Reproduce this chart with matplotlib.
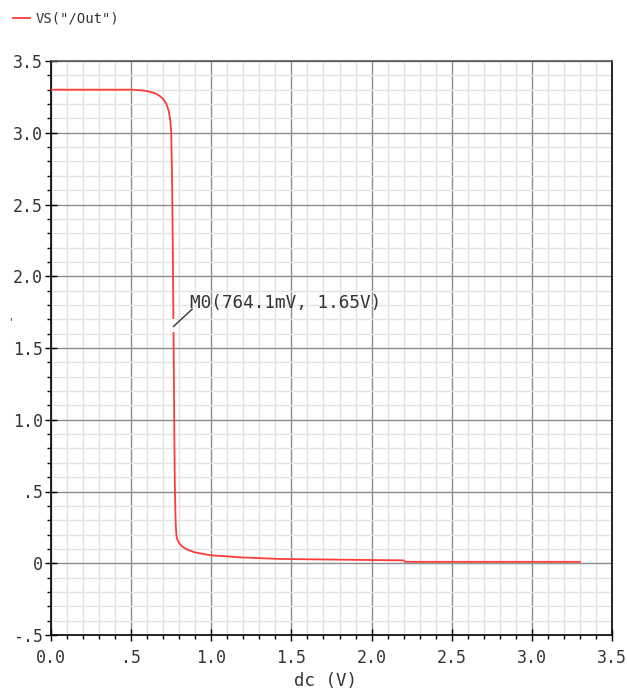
import numpy as np
import matplotlib.pyplot as plt
from matplotlib.ticker import MultipleLocator, FuncFormatter

plt.rcParams['font.family'] = ['DejaVu Sans Mono']

# DC sweep of an inverter output
dc = [0.0, 0.5, 0.55, 0.6, 0.65, 0.68, 0.7, 0.72, 0.735, 0.745, 0.75, 0.755,
      0.76, 0.7641, 0.768, 0.772, 0.776, 0.779, 0.782, 0.786, 0.79, 0.8, 0.82,
      0.85, 0.9, 1.0, 1.2, 1.43, 1.8, 2.2, 2.21, 3.3]
vout = [3.3, 3.3, 3.297, 3.29, 3.275, 3.255, 3.235, 3.2, 3.15, 3.08, 3.0, 2.7,
        2.2, 1.65, 1.1, 0.6, 0.35, 0.25, 0.2, 0.175, 0.16, 0.14, 0.115,
        0.095, 0.075, 0.055, 0.04, 0.03, 0.025, 0.02, 0.01, 0.01]
marker_x = 0.7641
marker_y = 1.65
marker_text = "M0(764.1mV, 1.65V)"
legend_label = 'VS("/Out")'

fig = plt.figure(figsize=(6.27, 6.90), dpi=100)
ax = fig.add_axes([51/627, 1 - 635/690, 561/627, 574/690])

ax.plot(dc, vout, color="#ff3b3b", lw=1.3, zorder=3)

ax.set_xlim(0, 3.5)
ax.set_ylim(-0.5, 3.5)
ax.xaxis.set_major_locator(MultipleLocator(0.5))
ax.xaxis.set_minor_locator(MultipleLocator(0.1))
ax.yaxis.set_major_locator(MultipleLocator(0.5))
ax.yaxis.set_minor_locator(MultipleLocator(0.1))

def fmt(v, pos):
    if abs(v) < 1e-9:
        return "0"
    s = "%.1f" % v
    if s.startswith("0."):
        s = s[1:]
    elif s.startswith("-0."):
        s = "-" + s[2:]
    return s

ax.yaxis.set_major_formatter(FuncFormatter(fmt))
ax.xaxis.set_major_formatter(FuncFormatter(lambda v, p: "0.0" if abs(v) < 1e-9 else fmt(v, p)))

ax.grid(which="major", color="#8c8c8c", lw=1.0, zorder=1)
ax.grid(which="minor", color="#e2e2e2", lw=1.0, zorder=0)
ax.set_axisbelow(True)

ax.tick_params(which="major", direction="inout", length=8, width=1, color="black",
               labelsize=12, labelcolor="#333333")
ax.tick_params(axis="x", which="major", pad=6)
ax.tick_params(axis="y", which="major", pad=2)
ax.tick_params(which="minor", direction="out", length=3, width=1, color="black")
for s in ["left", "bottom", "right"]:
    ax.spines[s].set_color("black")
    ax.spines[s].set_linewidth(1.2)
ax.spines["top"].set_color("#555555")
ax.spines["top"].set_linewidth(1.2)

# marker annotation: small gap in the trace, leader line, label
ax.plot([marker_x, marker_x], [marker_y - 0.04, marker_y + 0.05], color="white",
        lw=3, zorder=4, solid_capstyle="butt")
ax.plot([marker_x, 0.88], [marker_y, 1.77], color="#333333", lw=1, zorder=5)
ax.text(0.865, 1.815, marker_text, fontsize=12.7, color="#333333", va="center",
        ha="left", zorder=5)

ax.set_xlabel("dc (V)", fontsize=12.5, color="#333333", labelpad=3)
ax.xaxis.set_label_coords(0.49, -0.065)
fig.text(10/627, 1 - 322/690, "'", fontsize=8, color="#555555", ha="center", va="center")

# legend entry at top-left
fig.lines.append(plt.Line2D([13/627, 30/627], [1 - 18/690, 1 - 18/690],
                            transform=fig.transFigure, color="#ff3b3b", lw=1.3))
fig.text(36/627, 1 - 18/690, legend_label, fontsize=10, color="#333333",
         ha="left", va="center")

fig.savefig("out.png", dpi=100)
